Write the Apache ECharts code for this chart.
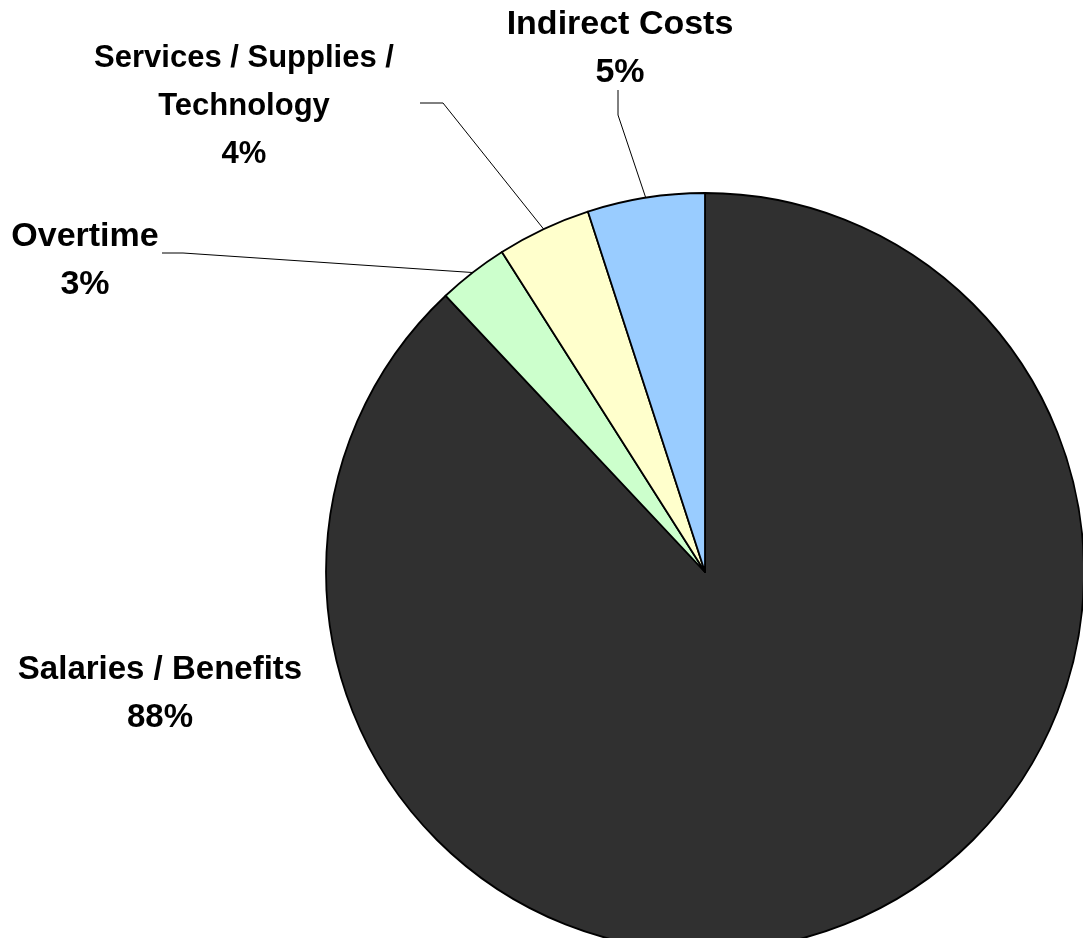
<!DOCTYPE html>
<html>
<head>
<meta charset="utf-8">
<script src="https://cdn.jsdelivr.net/npm/echarts@6/dist/echarts.min.js"></script>
<style>
  html, body { margin: 0; padding: 0; background: #ffffff; }
  #chart { width: 1083px; height: 938px; }
</style>
</head>
<body>
<div id="chart"></div>
<script>
// Budget breakdown, clockwise from 12 o'clock
const categories = ['Salaries / Benefits', 'Overtime', 'Services / Supplies /\nTechnology', 'Indirect Costs'];
const shares = [88, 3, 4, 5];

const sliceColors = ['#303030', '#CCFFCC', '#FFFFCC', '#99CCFF'];

// Label anchors (top-centre of each text block) and leader-line bend offsets
const labelPlacement = [
  { x: 160, y: 646, size: 33, line: null },
  { x: 85, y: 213, size: 34, line: { bend: [98, 40], end: [77, 40] } },
  { x: 244, y: 34, size: 31, line: { bend: [199, 69], end: [176, 69] } },
  { x: 620, y: 1, size: 34, line: { bend: [-2, 114], end: [-2, 89] } }
];

const chart = echarts.init(document.getElementById('chart'), null, { renderer: 'canvas' });

const data = categories.map((name, i) => ({
  name: name,
  value: shares[i],
  itemStyle: { color: sliceColors[i] },
  label: {
    fontSize: labelPlacement[i].size,
    lineHeight: 48
  },
  labelLine: { show: labelPlacement[i].line !== null }
}));

chart.setOption({
  animation: false,
  backgroundColor: '#ffffff',
  series: [{
    type: 'pie',
    center: [705, 572],
    radius: 379,
    startAngle: 90,
    clockwise: true,
    avoidLabelOverlap: false,
    itemStyle: { borderColor: '#000000', borderWidth: 1.8 },
    label: {
      show: true,
      position: 'outside',
      formatter: '{b}\n{d}%',
      color: '#000000',
      fontFamily: 'Liberation Sans, Arial, sans-serif',
      fontWeight: 'bold',
      align: 'center'
    },
    labelLine: {
      show: true,
      lineStyle: { color: '#000000', width: 1 }
    },
    labelLayout: function (params) {
      const p = labelPlacement[params.dataIndex];
      const out = { x: p.x, y: p.y, align: 'center', verticalAlign: 'top' };
      if (p.line && params.labelLinePoints) {
        const start = params.labelLinePoints[0];
        out.labelLinePoints = [
          [start[0], start[1]],
          [p.x + p.line.bend[0], p.y + p.line.bend[1]],
          [p.x + p.line.end[0], p.y + p.line.end[1]]
        ];
      }
      return out;
    },
    data: data
  }]
});
</script>
</body>
</html>
